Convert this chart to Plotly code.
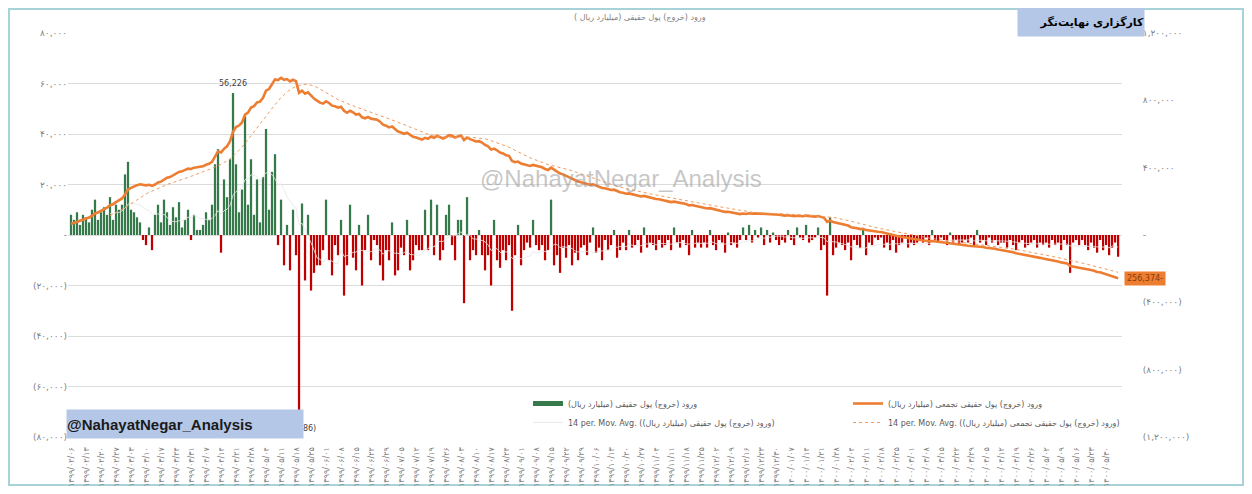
import plotly.graph_objects as go
import pandas as pd

# ---------------- data (billion rials) ----------------
flows = [
    8000, 6000, 9000, 4000, 8000, 7000, 5000, 10000, 14000, 6000, 9000, 11000, 8000, 15000, 6000, 12000,
    10000, 12000, 24000, 29000, 10000, 9000, 7000, 5000,
    -2000, -4000, 3000, -6000, 8000, 12000, 5000, 14000, 9000, 4000, 11000, 7000, 13000, 3000, 6000, 10000,
    -2000, 8000, 2000, 2000,
    4000, 9000, 6000, 12000, 28000, 34000, -7000, 22000, 15000, 30000, 56226, 28000, 9000, 18000, 47000,
    12000, 30000, 8000, 22000, 5000, 23000, 42000, 10000, 25000, 32000, -4000, 14000, -12000,
    4000, -14000, 10000, -8000, -69486, 12500,
    -18000, 8000, -22000, -15000, -12000, -12000,
    -6000, 14000, -10000, -16000, -4000, -8000, 6000, -24000, -12000, 12000,
    -9000, -14000, 4000, -20000, -6000, 8000, -10000, -2000, -4000,
    -12000, -18000, -6000, -10000, 5000, -16000, -14000, -5000,
    -8000, 6000, -14000, -10000, -4000, -6000, -6000,
    10000, -6000, 14000, -8000, 12000, -10000,
    -6000, 8000, 12000, -4000, -10000, 6000, 6000,
    -27000, 15000, -10000, -6000, -8000, 2000, -8000,
    -14000, -8000, -20000, 6000, -10000, -13000,
    -6000, -10000, -4000, -30000, -8000, 4000, -12000, -6000, -3000, -5000, 6000, -4000, -6000, -4000,
    -10000, -6000, 14000, -12000, -8000, -15000, -5000, -9000, -4000, -12000, -7000, -10000, -5000,
    -4000, -8000, -3000, 3000, -7000, -5000, -10000, -2000, -6000, -4000, 2000, -9000, -6000,
    -3000, -6000, 2000, -5000, -4000, -2000, -7000, 3000, -5000, -3000, -4000, -6000, -2000, -5000,
    -4000, -2000, -6000, 3000, -3000, -5000, -2000, -4000, -8000, 2000, -5000, -3000, -5000,
    -3000, -5000, 2000, -4000, -6000, -2000, -3000, -7000, 1000, -4000, -3000, -5000, -2000,
    3000, -2000, 4000, -3000, 2000, -1000, 3000, -4000, 2000, -3000, 1000, -2000, -4000, -2000,
    -3000, 2000, -2000, -4000, 3000, -1000, -2000, 4000, -3000, -2000, -1000, 3000, -6000,
    -4000, -24000, 7000, -8000, -5000, -3000, -4000,
    -6000, -3000, -10000, -2000, -4000, -5000, 2000, -8000, -3000, -4000, -1000, -2000, -1000,
    -5000, -3000, -6000, -2000, -7000, -4000, -3000, -1000, -5000, -3000, -4000, -3000, -2000,
    -3000, -1000, -4000, 2000, -2000, -3000, -1000, -2000, -4000, 1000, -3000, -2000, -4000, -3000,
    -2000, -3000, -1000, -4000, 2000, -3000, -2000, -4000, -1000, -3000, -2000, -4000, -3000,
    -3000, -5000, -2000, -4000, -6000, -3000, -2000, -5000, -4000, -3000, -2000, -5000, -3000,
    -4000, -3000, -5000, -2000, -4000, -3000, -6000, -2000, -4000, -15000, -3000, -2000, -4000, -2000,
    -4000, -6000, -3000, -5000, -7000, -2000, -6000, -4000, -8000, -5000, -3000, -8614,
]
cum_start = 57000  # cumulative value carried in before the first bar

tick_dates = [
    "1399/02/06", "1399/02/13", "1399/02/20", "1399/02/27",
    "1399/03/03", "1399/03/10", "1399/03/17", "1399/03/24", "1399/03/31",
    "1399/04/07", "1399/04/14", "1399/04/21", "1399/04/28",
    "1399/05/04", "1399/05/11", "1399/05/18", "1399/05/25",
    "1399/06/01", "1399/06/08", "1399/06/15", "1399/06/22", "1399/06/29",
    "1399/07/05", "1399/07/12", "1399/07/19", "1399/07/26",
    "1399/08/03", "1399/08/10", "1399/08/17", "1399/08/24",
    "1399/09/01", "1399/09/08", "1399/09/15", "1399/09/22", "1399/09/29",
    "1399/10/06", "1399/10/13", "1399/10/20", "1399/10/27",
    "1399/11/04", "1399/11/11", "1399/11/18", "1399/11/25",
    "1399/12/02", "1399/12/09", "1399/12/16", "1399/12/23", "1399/12/30",
    "1400/01/07", "1400/01/14", "1400/01/21", "1400/01/28",
    "1400/02/04", "1400/02/11", "1400/02/18", "1400/02/25",
    "1400/03/01", "1400/03/08", "1400/03/15", "1400/03/22", "1400/03/29",
    "1400/04/05", "1400/04/12", "1400/04/19", "1400/04/26",
    "1400/05/02", "1400/05/09", "1400/05/16", "1400/05/23", "1400/05/30",
]
left_ticks = [80000, 60000, 40000, 20000, 0, -20000, -40000, -60000, -80000]
right_ticks = [1200000, 800000, 400000, 0, -400000, -800000, -1200000]

name_flow = "ورود (خروج) پول حقیقی (میلیارد ریال)"
name_cum = "ورود (خروج) پول حقیقی تجمعی (میلیارد ریال)"
title_text = "ورود (خروج) پول حقیقی (میلیارد ریال )"

# ---------------- helpers ----------------
FA = str.maketrans("0123456789", "۰۱۲۳۴۵۶۷۸۹")


def acct(v):
    if v == 0:
        return "-"
    s = f"{abs(v):,}".translate(FA)
    return f"({s})" if v < 0 else s


OFF = 8  # page body margin
W, H = 1252 - 2 * OFF, 494 - 2 * OFF
# plot area in page pixels: left 68, right 1122, top 33, bottom 437
ML = 68 - OFF
MT = 33 - OFF
MR = W - (1122 - OFF)
MB = H - (437 - OFF)
PW, PH = W - ML - MR, H - MT - MB


def px(xpage):
    return (xpage - OFF - ML) / PW


def py(ypage):
    return (H - MB - (ypage - OFF)) / PH


x = list(range(len(flows)))
s = pd.Series(flows, dtype=float)
cum = cum_start + s.cumsum()
ma_flow = s.rolling(14).mean()
ma_cum = cum.rolling(14).mean()

GREEN = "#367a4b"
RED = "#c00000"
ORANGE = "#ed7d31"
bar_colors = [GREEN if v >= 0 else RED for v in flows]

FONT = "DejaVu Sans"

fig = go.Figure()
fig.add_trace(go.Bar(x=x, y=flows, name=name_flow, marker=dict(color=bar_colors, line=dict(width=0)),
                     showlegend=False))
# legend entry for the bars (wide flat swatch like the original)
fig.add_trace(go.Scatter(x=[None], y=[None], name=name_flow, mode="lines",
                         line=dict(color=GREEN, width=5), legend="legend"))
fig.add_trace(go.Scatter(x=x, y=ma_flow, name="14 per. Mov. Avg. (" + name_flow + ")", mode="lines",
                         line=dict(color="#e6e6e6", width=0.8), legend="legend"))
fig.add_trace(go.Scatter(x=x, y=cum, name=name_cum, mode="lines", yaxis="y2",
                         line=dict(color=ORANGE, width=2.6), legend="legend2"))
fig.add_trace(go.Scatter(x=x, y=ma_cum, name="14 per. Mov. Avg. (" + name_cum + ")", mode="lines", yaxis="y2",
                         line=dict(color="#f19a5e", width=1, dash="dot"), legend="legend2"))

imax = int(s.idxmax())
imin = int(s.idxmin())


def box(xp, yp, **kw):
    d = dict(x=px(xp), y=py(yp), xref="paper", yref="paper", showarrow=False,
             xanchor="center", yanchor="middle")
    d.update(kw)
    return d


annotations = [
    dict(x=imax, y=flows[imax], xref="x", yref="y", text=f"{flows[imax]:,}", showarrow=False,
         yanchor="bottom", yshift=3, font=dict(size=8, color="#404040", family=FONT)),
    dict(x=imin, y=flows[imin], xref="x", yref="y", text=f"({abs(flows[imin]):,})", showarrow=False,
         yanchor="top", yshift=-12, font=dict(size=8, color="#404040", family=FONT)),
    dict(x=x[-1], y=cum.iloc[-1], xref="x", yref="y2", text=f"{abs(int(cum.iloc[-1])):,}-", showarrow=False,
         xanchor="left", xshift=6, bgcolor=ORANGE, borderpad=2,
         font=dict(size=8, color="#843c0c", family=FONT)),
    box(640, 18, text=title_text, font=dict(size=8, color="#7f7f7f", family=FONT)),
    box(621, 178, text="@NahayatNegar_Analysis",
        font=dict(size=24, color="rgba(150,150,150,0.55)", family="Liberation Sans")),
    box(1081, 22, text="<b>کارگزاری نهایت‌نگر</b>", width=126, height=28, bgcolor="#b4c7e7",
        borderpad=0, align="right", font=dict(size=11, color="#000000", family=FONT)),
    box(185, 424, text="<b>@NahayatNegar_Analysis</b>", width=236, height=28, bgcolor="#b4c7e7",
        borderpad=0, align="left", font=dict(size=15, color="#1a1a1a", family="Liberation Sans")),
]

shapes = [
    dict(type="rect", xref="paper", yref="paper", x0=px(9), x1=px(1243), y0=py(485), y1=py(9),
         line=dict(color="#a7d3d8", width=2), fillcolor="rgba(0,0,0,0)", layer="below"),
]

fig.update_layout(
    width=W, height=H,
    margin=dict(l=ML, r=MR, t=MT, b=MB, autoexpand=False),
    paper_bgcolor="white", plot_bgcolor="white",
    bargap=0.25,
    font=dict(family=FONT, color="#7f7f7f"),
    xaxis=dict(range=[-1, len(flows) + 0.3], tickmode="array", tickvals=x[::5],
               ticktext=[d.translate(FA) for d in tick_dates], tickangle=-90, automargin=False,
               ticks="outside", ticklen=6, tickcolor="rgba(0,0,0,0)",
               tickfont=dict(size=8, color="#7f7f7f"), showgrid=False, zeroline=False, showline=False),
    yaxis=dict(range=[-80000, 80000], tickmode="array", tickvals=left_ticks, automargin=False,
               ticktext=[acct(v) for v in left_ticks], tickfont=dict(size=9, color="#7f7f7f"),
               showgrid=True, gridcolor="#dcdcdc", gridwidth=1, zeroline=False, showline=False),
    yaxis2=dict(range=[-1200000, 1200000], overlaying="y", side="right", tickmode="array", automargin=False,
                tickvals=right_ticks, ticktext=[acct(v) for v in right_ticks],
                tickfont=dict(size=9, color="#7f7f7f"), showgrid=False, zeroline=False, showline=False,
                ticks="outside", ticklen=18, tickcolor="rgba(0,0,0,0)"),
    legend=dict(x=px(528), y=py(389), xanchor="left", yanchor="top", bgcolor="rgba(0,0,0,0)",
                font=dict(size=8, color="#595959", family=FONT)),
    legend2=dict(x=px(848), y=py(389), xanchor="left", yanchor="top", bgcolor="rgba(0,0,0,0)",
                 font=dict(size=8, color="#595959", family=FONT)),
    annotations=annotations,
    shapes=shapes,
)

fig.write_html("out.html")
